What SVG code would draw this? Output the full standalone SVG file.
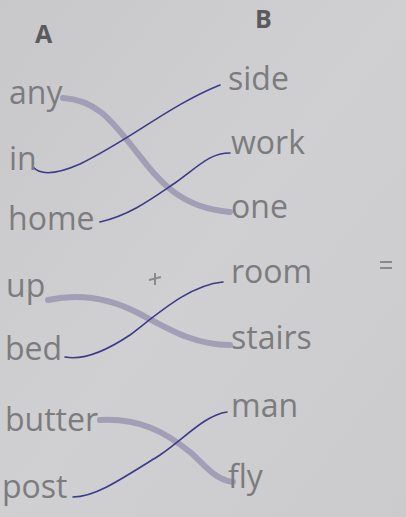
<svg xmlns="http://www.w3.org/2000/svg" width="406" height="517" viewBox="0 0 406 517">
<defs>
<linearGradient id="bg" x1="0" y1="0" x2="1" y2="1">
<stop offset="0" stop-color="#c8c8ca"/>
<stop offset="0.5" stop-color="#d0d0d2"/>
<stop offset="1" stop-color="#cbcbcd"/>
</linearGradient>
</defs>
<style>
.w{font-family:"Open Sans","Noto Sans",sans-serif;font-size:32px;fill:#7c7c7e}
.h{font-family:"Open Sans","Noto Sans",sans-serif;font-size:25px;font-weight:bold;fill:#5a5a5e}
.thick{fill:none;stroke:#a29eb6;stroke-width:6;stroke-linecap:round}
.thin{fill:none;stroke:#3b3a8c;stroke-width:1.6;stroke-linecap:round}
.sym{fill:none;stroke:#8a8a8c;stroke-width:2}
</style>
<rect width="406" height="517" fill="url(#bg)"/>
<g id="headers">
<text class="h" x="35" y="43">A</text>
<text class="h" x="255" y="28">B</text>
</g>
<g id="connectors">
<path class="thick" d="M63,98 C95,100 110,118 135,150 C160,182 180,208 230,212"/>
<path class="thin" d="M33,167 C40,175 55,175 80,164 C130,140 170,105 220,85"/>
<path class="thin" d="M100,222 C130,215 150,200 175,183 C200,165 210,153 230,153"/>
<path class="thick" d="M48,300 C80,293 110,298 140,314 C170,330 195,345 230,345"/>
<path class="thin" d="M65,357 C80,360 100,355 130,335 C160,312 190,285 223,282"/>
<path class="thick" d="M100,420 C140,418 165,432 190,452 C205,465 215,480 233,482"/>
<path class="thin" d="M73,497 C95,497 120,480 160,455 C185,438 205,415 227,412"/>
</g>
<g id="a-any"><text class="w" x="9" y="104">any</text></g>
<g id="a-in"><text class="w" x="9" y="170">in</text></g>
<g id="a-home"><text class="w" x="8" y="230">home</text></g>
<g id="a-up"><text class="w" x="6" y="297">up</text></g>
<g id="a-bed"><text class="w" x="5" y="360">bed</text></g>
<g id="a-butter"><text class="w" x="5" y="431">butter</text></g>
<g id="a-post"><text class="w" x="2" y="498">post</text></g>
<g id="b-side"><text class="w" x="228" y="90">side</text></g>
<g id="b-work"><text class="w" x="231" y="154">work</text></g>
<g id="b-one"><text class="w" x="231" y="218">one</text></g>
<g id="b-room"><text class="w" x="231" y="283">room</text></g>
<g id="b-stairs"><text class="w" x="231" y="349">stairs</text></g>
<g id="b-man"><text class="w" x="231" y="417">man</text></g>
<g id="b-fly"><text class="w" x="228" y="488">fly</text></g>
<g id="symbols">
<path class="sym" d="M149,280 L161,277 M155,273 L155,285"/>
<path class="sym" d="M380,262 L392,262 M380,268 L392,268"/>
</g>
</svg>
